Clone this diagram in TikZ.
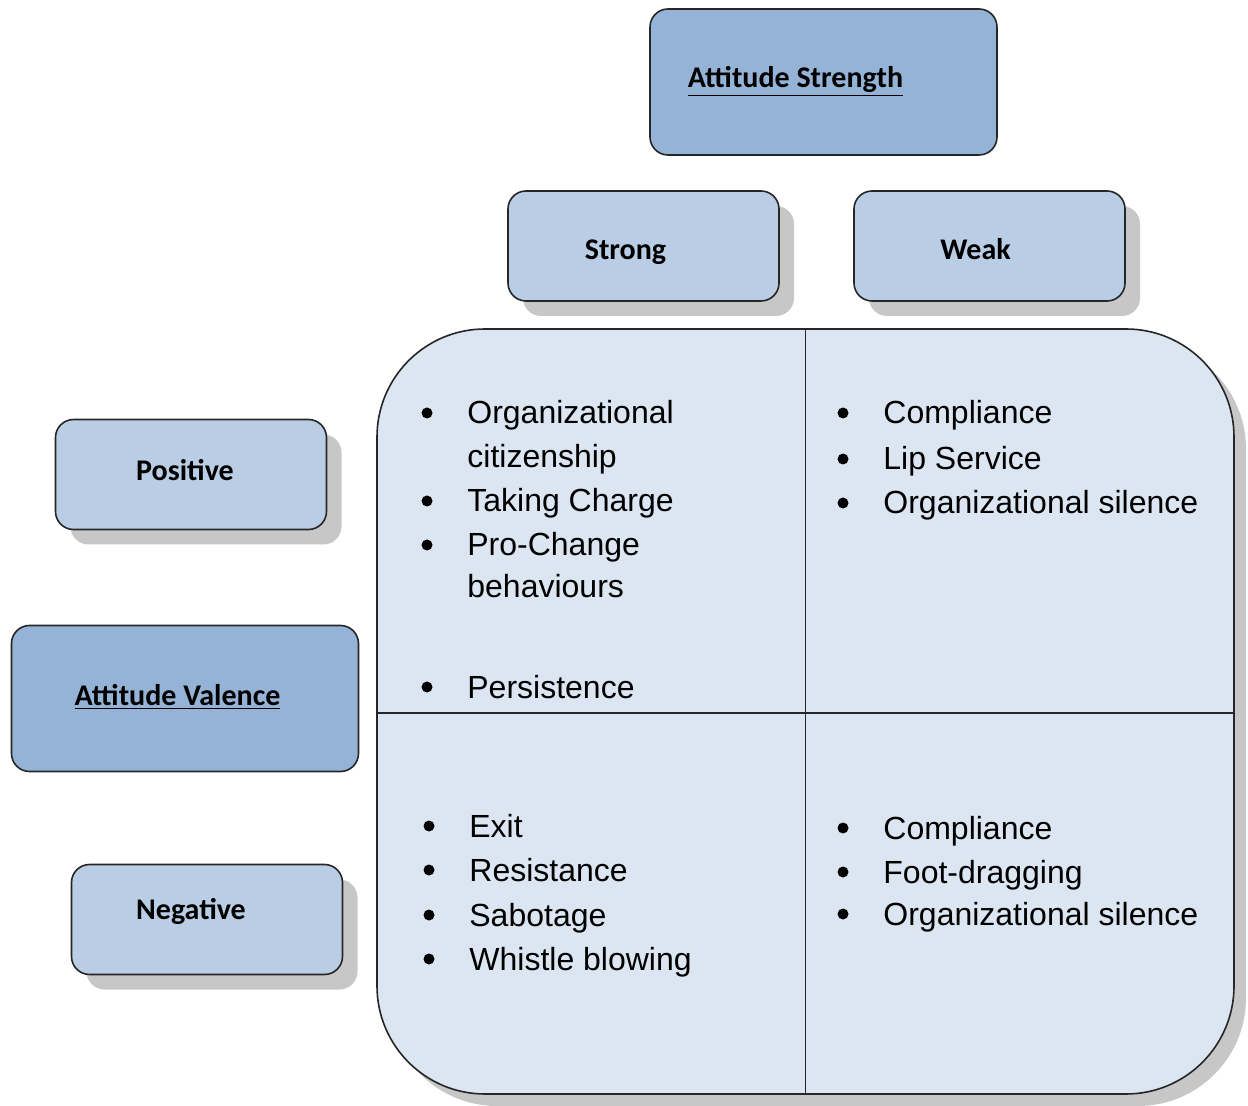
\documentclass[tikz,border=0pt]{standalone}
\usepackage{fontspec}
\setmainfont{Liberation Sans}
\newfontfamily\boxfont{Carlito}
\usetikzlibrary{shadows}

\definecolor{darkblue}{HTML}{95B3D7}
\definecolor{lightblue}{HTML}{B9CDE5}
\definecolor{paleblue}{HTML}{DCE6F2}

\tikzset{
  shade box/.style={drop shadow={shadow xshift=7.5pt,shadow yshift=-7.5pt,fill=black!22,opacity=1}},
  frame/.style={draw=black!85,line width=0.8pt,rounded corners=9pt,inner sep=0pt},
  dark/.style={frame,fill=darkblue,minimum width=173.5pt,minimum height=73pt},
  light/.style={frame,fill=lightblue,shade box,minimum width=135.5pt,minimum height=55pt},
  lbl/.style={font=\boxfont\bfseries\fontsize{15}{17}\selectfont,inner sep=0pt,text height=10pt,text depth=3pt},
  grid/.style={draw=black!85,line width=0.8pt,fill=paleblue,rounded corners=54pt,
    minimum width=428.5pt,minimum height=382.5pt,
    drop shadow={shadow xshift=6pt,shadow yshift=-6pt,fill=black!22,opacity=1}},
  rule/.style={draw=black!85,line width=0.8pt},
  entry/.style={anchor=base west,inner sep=0pt,font=\fontsize{16}{19}\selectfont},
  dot/.style={circle,fill=black,inner sep=0pt,minimum size=5.5pt}
}

\begin{document}
\begin{tikzpicture}[x=0.5pt,y=-0.5pt]
  \useasboundingbox (0,0) rectangle (1248,1106);

  % quadrant grid
  \node[grid] (grid) at (805.5,711.5) {};
  \draw[rule] (grid.north) -- (grid.south);
  \draw[rule] ([yshift=-0.75pt]grid.west) -- ([yshift=-0.75pt]grid.east);

  % headers
  \node[dark,label={[lbl,xshift=-14pt,yshift=0.5pt]center:\underline{Attitude Strength}}] (strength) at (823.5,82) {};
  \node[light,label={[lbl,xshift=-9pt,yshift=-3.5pt]center:Strong}] (strong) at (643.5,246) {};
  \node[light,label={[lbl,xshift=-7pt,yshift=-3.5pt]center:Weak}] (weak) at (989.5,246) {};

  \node[light,label={[lbl,xshift=-3pt,yshift=0.5pt]center:Positive}] (positive) at (191,474.5) {};
  \node[dark,label={[lbl,xshift=-3.75pt,yshift=0pt]center:\underline{Attitude Valence}}] (valence) at (185,698.5) {};
  \node[light,label={[lbl,xshift=-8pt,yshift=3.75pt]center:Negative}] (negative) at (207,919.5) {};

  % strong / positive
  \foreach \y/\t [count=\i] in {413/Organizational,501/Taking Charge,545/Pro-Change,687/Persistence}{
    \node[dot] (spb\i) at (427,\y) {};
    \node[entry] (spt\i) at (467,{\y+11}) {\t};
  }
  \node[entry] (spc1) at (467,468) {citizenship};
  \node[entry] (spc2) at (467,598) {behaviours};

  % weak / positive
  \foreach \y/\t [count=\i] in {413/Compliance,459/Lip Service,503/Organizational silence}{
    \node[dot] (wpb\i) at (843,\y) {};
    \node[entry] (wpt\i) at (883,{\y+11}) {\t};
  }

  % strong / negative
  \foreach \y/\t [count=\i] in {826/Exit,870/Resistance,915/Sabotage,959/Whistle blowing}{
    \node[dot] (snb\i) at (429,\y) {};
    \node[entry] (snt\i) at (469,{\y+11}) {\t};
  }

  % weak / negative
  \foreach \y/\t [count=\i] in {828/Compliance,872/Foot-dragging,914/Organizational silence}{
    \node[dot] (wnb\i) at (843,\y) {};
    \node[entry] (wnt\i) at (883,{\y+11}) {\t};
  }
\end{tikzpicture}
\end{document}
